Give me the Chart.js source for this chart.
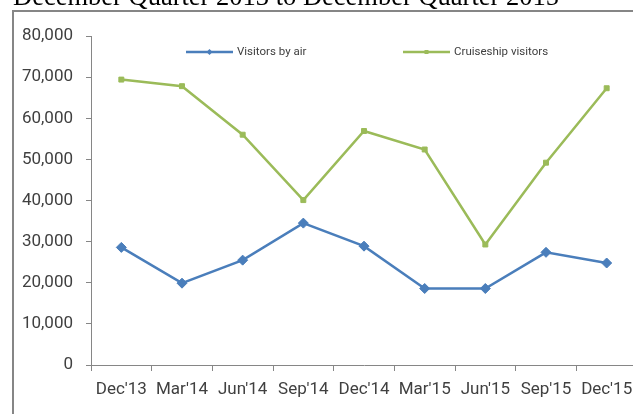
<!DOCTYPE html>
<html>
<head>
<meta charset="utf-8">
<script src="https://cdn.jsdelivr.net/npm/chart.js@4/dist/chart.umd.min.js"></script>
<style>
  html, body { margin: 0; padding: 0; background: #fff; overflow: hidden; }
  #wrap { position: relative; width: 633px; height: 414px; overflow: hidden; }
  canvas { display: block; }
</style>
</head>
<body>
<div id="wrap"><canvas id="c" width="650" height="414"></canvas></div>
<script>
const titleText = "December Quarter 2013 to December Quarter 2015";
const categories = ["Dec'13", "Mar'14", "Jun'14", "Sep'14", "Dec'14", "Mar'15", "Jun'15", "Sep'15", "Dec'15"];
const seriesNames = ["Visitors by air", "Cruiseship visitors"];
const visitorsByAir = [28600, 19900, 25500, 34500, 28900, 18600, 18600, 27400, 24800];
const cruiseshipVisitors = [69400, 67800, 56000, 40100, 56900, 52400, 29300, 49200, 67300];
const yTicks = [0, 10000, 20000, 30000, 40000, 50000, 60000, 70000, 80000];

const BLUE = '#4A7EBB';
const GREEN = '#9BBB59';
const AXIS = '#868686';
const TEXT = '#404040';
const FONT = 'Roboto';

const framePlugin = {
  id: 'frame',
  beforeDraw(chart) {
    const ctx = chart.ctx;
    ctx.save();
    ctx.fillStyle = '#fff';
    ctx.fillRect(0, 0, chart.width, chart.height);
    ctx.strokeStyle = AXIS;
    ctx.lineWidth = 2;
    ctx.strokeRect(13, 11, chart.width + 20, chart.height + 20);
    // title (cut off at the top)
    ctx.font = '100px "Liberation Serif", "Times New Roman", serif';
    const w = ctx.measureText(titleText).width;
    const size = 100 * 546 / w;
    ctx.font = size + 'px "Liberation Serif", "Times New Roman", serif';
    ctx.fillStyle = '#000';
    ctx.textBaseline = 'alphabetic';
    ctx.textAlign = 'left';
    ctx.fillText(titleText, 13, 5);
    ctx.restore();
  }
};

const legendPlugin = {
  id: 'customLegend',
  afterDraw(chart) {
    const ctx = chart.ctx;
    const items = [
      { x0: 186, x1: 233, tx: 237, y: 52 },
      { x0: 403, x1: 450, tx: 454, y: 52 }
    ];
    ctx.save();
    chart.data.datasets.forEach((ds, i) => {
      const it = items[i];
      ctx.strokeStyle = ds.borderColor;
      ctx.lineWidth = 2.5;
      ctx.beginPath();
      ctx.moveTo(it.x0, it.y);
      ctx.lineTo(it.x1, it.y);
      ctx.stroke();
      const cx = (it.x0 + it.x1) / 2;
      ctx.fillStyle = ds.borderColor;
      ctx.beginPath();
      if (ds.pointStyle === 'rect') {
        ctx.rect(cx - 2, it.y - 2, 4, 4);
      } else {
        ctx.moveTo(cx, it.y - 3); ctx.lineTo(cx + 3, it.y); ctx.lineTo(cx, it.y + 3); ctx.lineTo(cx - 3, it.y); ctx.closePath();
      }
      ctx.fill();
      ctx.fillStyle = TEXT;
      ctx.font = '11.5px ' + FONT;
      ctx.textBaseline = 'middle';
      ctx.textAlign = 'left';
      ctx.fillText(ds.label, it.tx, it.y);
    });
    ctx.restore();
  }
};

new Chart(document.getElementById('c'), {
  type: 'line',
  data: {
    labels: categories,
    datasets: [
      {
        label: seriesNames[0],
        data: visitorsByAir,
        borderColor: BLUE,
        backgroundColor: BLUE,
        borderWidth: 2.5,
        pointStyle: 'rectRot',
        pointRadius: 5,
        pointBorderWidth: 1,
        pointHoverRadius: 5,
        tension: 0
      },
      {
        label: seriesNames[1],
        data: cruiseshipVisitors,
        borderColor: GREEN,
        backgroundColor: GREEN,
        borderWidth: 2.5,
        pointStyle: 'rect',
        pointRadius: 3.5,
        pointBorderWidth: 1,
        pointHoverRadius: 3.5,
        tension: 0
      }
    ]
  },
  options: {
    responsive: false,
    animation: false,
    devicePixelRatio: 1,
    events: [],
    layout: { padding: { left: 0, right: 13, top: 36, bottom: 0 } },
    plugins: {
      legend: { display: false },
      title: { display: false },
      tooltip: { enabled: false }
    },
    scales: {
      x: {
        type: 'category',
        offset: true,
        grid: {
          display: true,
          offset: true,
          drawOnChartArea: false,
          drawTicks: true,
          tickLength: 6,
          color: AXIS,
          lineWidth: 1
        },
        border: { display: true, color: AXIS, width: 1 },
        ticks: {
          color: TEXT,
          font: { family: FONT, size: 17 },
          padding: 9,
          maxRotation: 0,
          autoSkip: false
        },
        afterFit(scale) { scale.height = 49; }
      },
      y: {
        min: 0,
        max: 80000,
        afterBuildTicks(scale) { scale.ticks = yTicks.map(v => ({ value: v })); },
        grid: {
          display: true,
          drawOnChartArea: false,
          drawTicks: true,
          tickLength: 5,
          color: AXIS,
          lineWidth: 1
        },
        border: { display: true, color: AXIS, width: 1 },
        ticks: {
          color: TEXT,
          font: { family: FONT, size: 17 },
          padding: 13,
          callback: (v) => v.toLocaleString('en-US')
        },
        afterFit(scale) { scale.width = 91; }
      }
    }
  },
  plugins: [framePlugin, legendPlugin]
});
</script>
</body>
</html>
